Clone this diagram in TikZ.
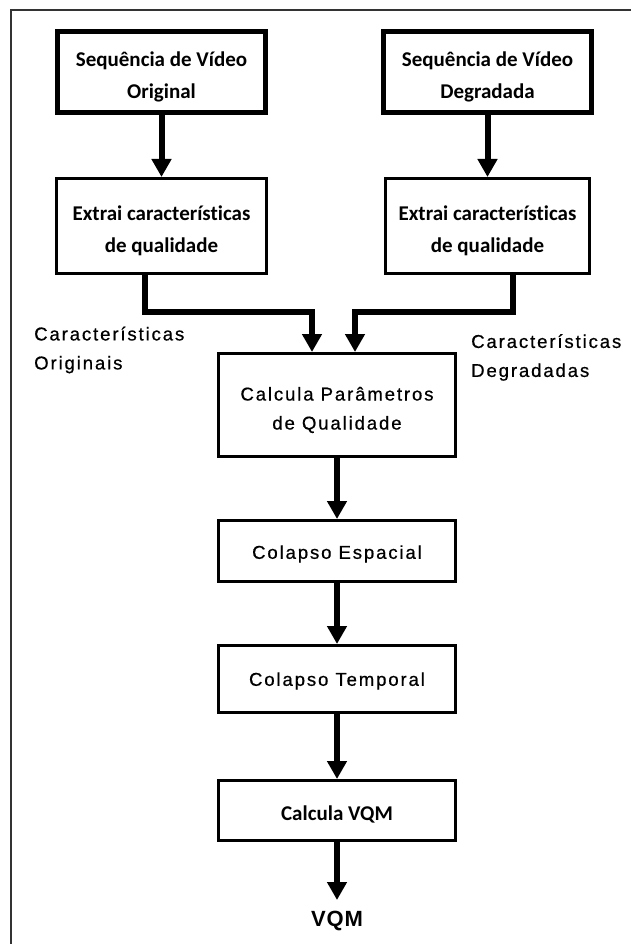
\documentclass[tikz,border=0pt]{standalone}
\usepackage{fontspec}
\setmainfont{Liberation Sans}
\newfontfamily\boxfamily[Ligatures=CommonOff]{Carlito}
\newfontfamily\labelfamily[LetterSpace=10,FakeBold=0.6]{Liberation Sans}
\newfontfamily\outfamily[LetterSpace=4]{Liberation Sans}
\usetikzlibrary{arrows.meta}

\newcommand{\cfont}{\boxfamily\bfseries\fontsize{21}{32}\selectfont}
\newcommand{\lfont}{\labelfamily\fontsize{18.6}{29}\selectfont}

\begin{document}
\begin{tikzpicture}[x=1pt,y=-1pt,
  seqbox/.style={draw, line width=5pt, minimum width=208pt, minimum height=81pt, inner sep=0pt},
  featbox/.style={draw, line width=3pt, minimum height=95pt, inner sep=0pt},
  procbox/.style={draw, line width=3pt, minimum width=237pt, inner sep=0pt},
  boxtext/.style={inner sep=0pt, align=center, yshift=-5pt},
  arr/.style={line width=6pt, -{Triangle[width=19pt,length=18pt]}, line join=miter},
  lbl/.style={align=left, anchor=west, inner sep=0pt, font=\lfont}]

  % page and frame
  \fill[white] (0,0) rectangle (631,944);
  \useasboundingbox (0,0) rectangle (631,944);
  \draw[black!80, line width=1.5pt] (11,944) -- (11,10) -- (631,10);

  % input sequences
  \node[seqbox] (orig) at (161.5,72) {};
  \node[seqbox] (degr) at (487.5,72) {};
  \node[boxtext, font=\cfont] (origtxt) at (orig.center) {Sequência de Vídeo\\Original};
  \node[boxtext, font=\cfont] (degrtxt) at (degr.center) {Sequência de Vídeo\\Degradada};

  % feature extraction
  \node[featbox, minimum width=210pt] (exo) at (161.5,226) {};
  \node[featbox, minimum width=204pt] (exd) at (487.5,226) {};
  \node[boxtext, font=\cfont] (exotxt) at (exo.center) {Extrai características\\de qualidade};
  \node[boxtext, font=\cfont] (exdtxt) at (exd.center) {Extrai características\\de qualidade};

  % processing chain
  \node[procbox, minimum height=103pt] (param) at (337,405) {};
  \node[procbox, minimum height=61pt] (espacial) at (337,551) {};
  \node[procbox, minimum height=67pt] (temporal) at (337,679) {};
  \node[procbox, minimum height=60pt] (calcvqm) at (337,810.5) {};
  \node[boxtext, font=\lfont] (paramtxt) at (param.center) {Calcula Parâmetros\\de Qualidade};
  \node[boxtext, font=\lfont, yshift=2pt] (espacialtxt) at (espacial.center) {Colapso Espacial};
  \node[boxtext, font=\lfont, yshift=3pt] (temporaltxt) at (temporal.center) {Colapso Temporal};
  \node[boxtext, font=\cfont, yshift=1pt] (calcvqmtxt) at (calcvqm.center) {Calcula VQM};
  \node[inner sep=0pt, anchor=north, font=\outfamily\bfseries\fontsize{22}{26}\selectfont] (vqm) at (337,911) {VQM};

  % side labels
  \node[lbl] (lorig) at (34,350) {Características\\Originais};
  \node[lbl] (ldegr) at (471,357.5) {Características\\Degradadas};

  % routing corners of the feature connectors
  \coordinate (co1) at (145,312);
  \coordinate (co2) at (312,312);
  \coordinate (cd1) at (513,312);
  \coordinate (cd2) at (355,312);

  % connectors
  \draw[arr] (orig.south) -- (exo.north);
  \draw[arr] (degr.south) -- (exd.north);
  \draw[arr] (exo.south -| co1) -- (co1) -- (co2) -- (param.north -| co2);
  \draw[arr] (exd.south -| cd1) -- (cd1) -- (cd2) -- (param.north -| cd2);
  \draw[arr] (param.south) -- (espacial.north);
  \draw[arr] (espacial.south) -- (temporal.north);
  \draw[arr] (temporal.south) -- (calcvqm.north);
  \draw[arr, shorten >=11pt] (calcvqm.south) -- (vqm.north);
\end{tikzpicture}
\end{document}
